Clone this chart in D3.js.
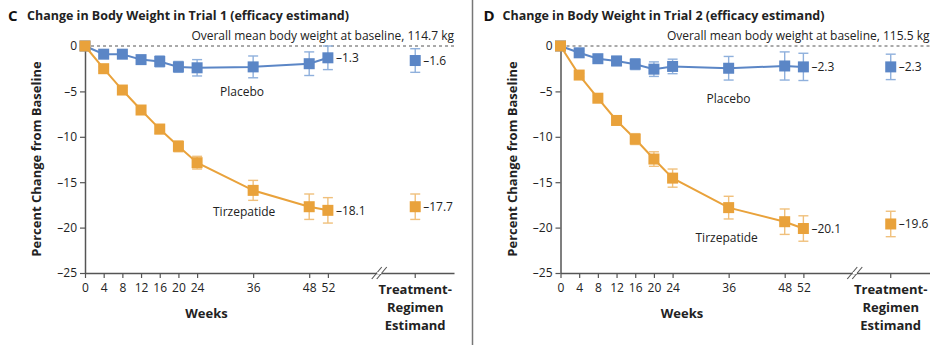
<!DOCTYPE html>
<meta charset="utf-8">
<style>
  body { margin: 0; background: #fff; }
  svg { display: block; font-family: "Open Sans", sans-serif; }
</style>
<body></body>
<script src="https://d3js.org/d3.v7.min.js"></script>
<script>

// weeks on the x axis
var weeks = [0, 4, 8, 12, 16, 20, 24, 36, 48, 52];
var yTicks = [0, -5, -10, -15, -20, -25];

// Trial 1
var placeboC = [0, -0.9, -0.9, -1.5, -1.7, -2.3, -2.4, -2.3, -1.95, -1.3];
var placeboErrC = [0, 0.2, 0.2, 0.4, 0.6, 0.6, 0.9, 1.2, 1.3, 1.3];
var tirzC = [0, -2.5, -4.85, -7.05, -9.15, -11.05, -12.85, -15.9, -17.7, -18.1];
var tirzErrC = [0, 0.2, 0.3, 0.4, 0.5, 0.6, 0.7, 1.1, 1.4, 1.4];
var treatC = [-1.6, -17.7];      // placebo, tirzepatide
var treatErrC = [1.3, 1.4];

// Trial 2
var placeboD = [0, -0.75, -1.4, -1.65, -2.0, -2.55, -2.25, -2.45, -2.2, -2.3];
var placeboErrD = [0, 0.2, 0.3, 0.5, 0.6, 0.8, 0.8, 1.3, 1.55, 1.5];
var tirzD = [0, -3.2, -5.75, -8.2, -10.25, -12.45, -14.55, -17.8, -19.35, -20.1];
var tirzErrD = [0, 0.2, 0.3, 0.4, 0.6, 0.8, 1.0, 1.25, 1.4, 1.4];
var treatD = [-2.3, -19.6];
var treatErrD = [1.4, 1.4];

var blue = "#5b86c6", orange = "#e9a23b";
var blueBar = "#8fb0dc", orangeBar = "#f0c07c";
var axisCol = "#555";

var svg = d3.select("body").append("svg")
  .attr("width", 942).attr("height", 345);

// divider between the two panels
svg.append("line")
  .attr("x1", 472.5).attr("x2", 472.5).attr("y1", 0).attr("y2", 345)
  .attr("stroke", "#777").attr("stroke-width", 1.5);

function fmt(v) { return v < 0 ? "\u2013" + Math.abs(v) : "" + v; }

function drawPanel(opt) {
  var g = svg.append("g").attr("transform", "translate(" + opt.dx + ",0)");

  var x = d3.scaleLinear().domain([0, 79]).range([85, 454]);
  var y = d3.scaleLinear().domain([0, -25]).range([46, 273]);
  var breakAt = 63, treatAt = 70.7;

  // heading
  g.append("text").attr("x", 8).attr("y", 21)
    .attr("font-size", 15).attr("font-weight", 700).attr("fill", "#111")
    .text(opt.letter);
  g.append("text").attr("x", 27).attr("y", 20)
    .attr("font-size", 13).attr("font-weight", 700).attr("fill", "#222")
    .attr("textLength", 322).attr("lengthAdjust", "spacingAndGlyphs")
    .text(opt.title);
  g.append("text").attr("x", 454).attr("y", 40).attr("text-anchor", "end")
    .attr("font-size", 12).attr("fill", "#222")
    .text("Overall mean body weight at baseline, " + opt.baseline + " kg");

  // dashed baseline
  g.append("line")
    .attr("x1", x(0)).attr("x2", x(79)).attr("y1", y(0)).attr("y2", y(0))
    .attr("stroke", "#555").attr("stroke-dasharray", "3,3");

  // y axis
  var yAxis = g.append("g").attr("transform", "translate(" + x(0) + ",0)")
    .call(d3.axisLeft(y).tickValues(yTicks).tickSize(5).tickSizeOuter(0).tickFormat(fmt));
  yAxis.select(".domain").attr("stroke", axisCol).attr("stroke-width", 1.5);
  yAxis.selectAll(".tick line").attr("stroke", axisCol).attr("stroke-width", 1.2);
  yAxis.selectAll(".tick text").attr("font-size", 12).attr("fill", "#222")
    .attr("font-family", "Open Sans, sans-serif");

  // x axis
  var xAxis = g.append("g").attr("transform", "translate(0," + y(-25) + ")")
    .call(d3.axisBottom(x).tickValues(weeks).tickSize(5).tickSizeOuter(0).tickFormat(d3.format("d")));
  xAxis.select(".domain").attr("stroke", axisCol).attr("stroke-width", 1.5);
  xAxis.selectAll(".tick line").attr("stroke", axisCol).attr("stroke-width", 1.2);
  xAxis.selectAll(".tick text").attr("font-size", 12).attr("fill", "#222").attr("dy", "0.9em")
    .attr("font-family", "Open Sans, sans-serif");
  g.append("line")
    .attr("x1", x(treatAt)).attr("x2", x(treatAt))
    .attr("y1", y(-25)).attr("y2", y(-25) + 5)
    .attr("stroke", axisCol).attr("stroke-width", 1.2);

  // axis break
  [-2.5, 2.5].forEach(function(o) {
    g.append("line")
      .attr("x1", x(breakAt) + o - 5).attr("x2", x(breakAt) + o + 5)
      .attr("y1", y(-25) + 6).attr("y2", y(-25) - 6)
      .attr("stroke", axisCol).attr("stroke-width", 1.1);
  });
  g.append("rect")
    .attr("x", x(breakAt) - 2).attr("y", y(-25) - 1).attr("width", 4).attr("height", 2)
    .attr("fill", "#fff");

  // axis titles
  g.append("text")
    .attr("transform", "translate(" + opt.yLabelX + "," + 159 + ") rotate(-90)")
    .attr("text-anchor", "middle").attr("font-size", 13).attr("font-weight", 700).attr("fill", "#222")
    .text("Percent Change from Baseline");
  g.append("text").attr("x", x(26)).attr("y", 318).attr("text-anchor", "middle")
    .attr("font-size", 13).attr("font-weight", 700).attr("fill", "#222").text("Weeks");
  var tl = g.append("text").attr("text-anchor", "middle")
    .attr("font-size", 13).attr("font-weight", 700).attr("fill", "#222");
  ["Treatment-", "Regimen", "Estimand"].forEach(function(s, i) {
    tl.append("tspan").attr("x", x(treatAt)).attr("y", 294 + i * 18).text(s);
  });

  var series = [
    { vals: opt.placebo, err: opt.placeboErr, treat: opt.treat[0], treatErr: opt.treatErr[0], col: blue, bar: blueBar },
    { vals: opt.tirz, err: opt.tirzErr, treat: opt.treat[1], treatErr: opt.treatErr[1], col: orange, bar: orangeBar }
  ];

  var line = d3.line().x(function(d) { return x(d[0]); }).y(function(d) { return y(d[1]); });

  series.forEach(function(s) {
    var pts = weeks.map(function(w, i) { return [w, s.vals[i], s.err[i]]; });
    pts.push([treatAt, s.treat, s.treatErr]);
    var linePts = pts.slice(0, weeks.length);

    g.append("path").datum(linePts).attr("d", line)
      .attr("fill", "none").attr("stroke", s.col).attr("stroke-width", 2);

    var eb = g.append("g");
    pts.forEach(function(p) {
      if (!p[2]) return;
      var cx = x(p[0]);
      eb.append("line").attr("x1", cx).attr("x2", cx)
        .attr("y1", y(p[1] + p[2])).attr("y2", y(p[1] - p[2]))
        .attr("stroke", s.bar).attr("stroke-width", 1.4);
      [p[1] + p[2], p[1] - p[2]].forEach(function(v) {
        eb.append("line").attr("x1", cx - 5).attr("x2", cx + 5)
          .attr("y1", y(v)).attr("y2", y(v))
          .attr("stroke", s.bar).attr("stroke-width", 1.4);
      });
    });

    g.selectAll(null).data(pts).enter().append("rect")
      .attr("x", function(d) { return x(d[0]) - 5.5; })
      .attr("y", function(d) { return y(d[1]) - 5.5; })
      .attr("width", 11).attr("height", 11)
      .attr("fill", s.col);

    // end labels
    [pts[weeks.length - 1], pts[weeks.length]].forEach(function(p) {
      g.append("text").attr("x", x(p[0]) + 8).attr("y", y(p[1]) + 4.5)
        .attr("font-size", 12).attr("fill", "#222").text(fmt(p[1]));
    });
  });

  g.append("text").attr("x", opt.placeboLab[0]).attr("y", opt.placeboLab[1])
    .attr("font-size", 12).attr("fill", "#222").text("Placebo");
  g.append("text").attr("x", opt.tirzLab[0]).attr("y", opt.tirzLab[1])
    .attr("font-size", 12).attr("fill", "#222").text("Tirzepatide");
}

drawPanel({
  dx: 0, letter: "C", title: "Change in Body Weight in Trial 1 (efficacy estimand)",
  baseline: "114.7", yLabelX: 41,
  placebo: placeboC, placeboErr: placeboErrC, tirz: tirzC, tirzErr: tirzErrC,
  treat: treatC, treatErr: treatErrC,
  placeboLab: [220, 96], tirzLab: [213, 216]
});

drawPanel({
  dx: 475.5, letter: "D", title: "Change in Body Weight in Trial 2 (efficacy estimand)",
  baseline: "115.5", yLabelX: 41,
  placebo: placeboD, placeboErr: placeboErrD, tirz: tirzD, tirzErr: tirzErrD,
  treat: treatD, treatErr: treatErrD,
  placeboLab: [231, 103], tirzLab: [220, 242]
});

</script>
